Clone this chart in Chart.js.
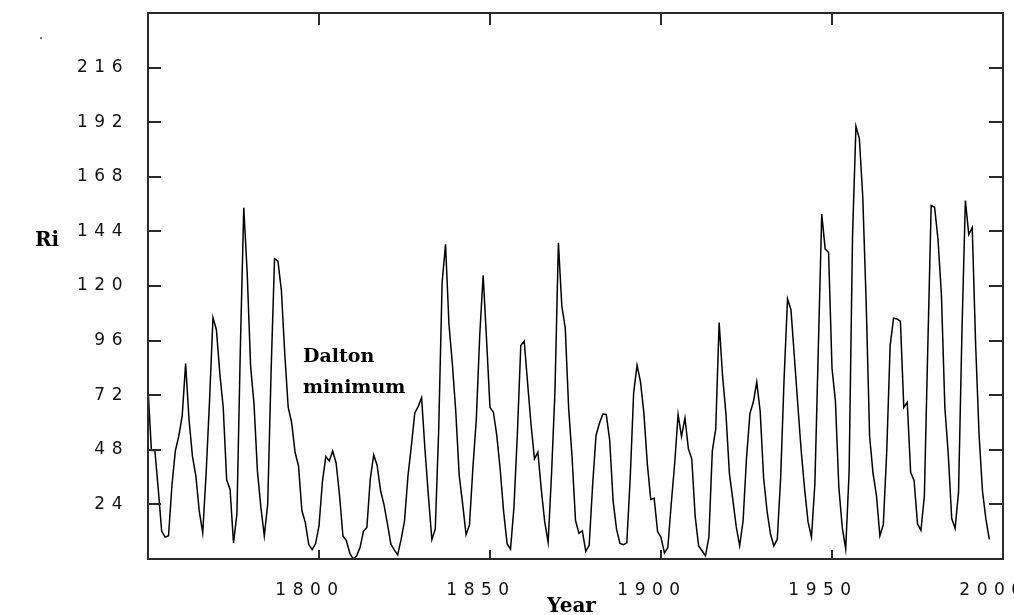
<!DOCTYPE html>
<html><head><meta charset="utf-8">
<script src="https://cdn.jsdelivr.net/npm/chart.js@4/dist/chart.umd.min.js"></script>
<style>html,body{margin:0;padding:0;background:#fff;overflow:hidden}#wrap{position:relative;width:1014px;height:615px}</style>
</head><body><div id="wrap"><canvas id="c" width="1014" height="615"></canvas></div>
<script>
const years = [
1750,1751,1752,1753,1754,1755,1756,1757,1758,1759,
1760,1761,1762,1763,1764,1765,1766,1767,1768,1769,
1770,1771,1772,1773,1774,1775,1776,1777,1778,1779,
1780,1781,1782,1783,1784,1785,1786,1787,1788,1789,
1790,1791,1792,1793,1794,1795,1796,1797,1798,1799,
1800,1801,1802,1803,1804,1805,1806,1807,1808,1809,
1810,1811,1812,1813,1814,1815,1816,1817,1818,1819,
1820,1821,1822,1823,1824,1825,1826,1827,1828,1829,
1830,1831,1832,1833,1834,1835,1836,1837,1838,1839,
1840,1841,1842,1843,1844,1845,1846,1847,1848,1849,
1850,1851,1852,1853,1854,1855,1856,1857,1858,1859,
1860,1861,1862,1863,1864,1865,1866,1867,1868,1869,
1870,1871,1872,1873,1874,1875,1876,1877,1878,1879,
1880,1881,1882,1883,1884,1885,1886,1887,1888,1889,
1890,1891,1892,1893,1894,1895,1896,1897,1898,1899,
1900,1901,1902,1903,1904,1905,1906,1907,1908,1909,
1910,1911,1912,1913,1914,1915,1916,1917,1918,1919,
1920,1921,1922,1923,1924,1925,1926,1927,1928,1929,
1930,1931,1932,1933,1934,1935,1936,1937,1938,1939,
1940,1941,1942,1943,1944,1945,1946,1947,1948,1949,
1950,1951,1952,1953,1954,1955,1956,1957,1958,1959,
1960,1961,1962,1963,1964,1965,1966,1967,1968,1969,
1970,1971,1972,1973,1974,1975,1976,1977,1978,1979,
1980,1981,1982,1983,1984,1985,1986,1987,1988,1989,
1990,1991,1992,1993,1994,1995,1996
];
const sunspotNumber = [
75.0,47.7,47.8,30.7,12.2,9.6,10.2,32.4,47.6,54.0,
62.9,85.9,61.2,45.1,36.4,20.9,11.4,37.8,69.8,106.1,
100.8,81.6,66.5,34.8,30.6,7.0,19.8,92.5,154.4,125.9,
84.8,68.1,38.5,22.8,10.2,24.1,82.9,132.0,130.9,118.1,
89.9,66.6,60.0,46.9,41.0,21.3,16.0,6.4,4.1,6.8,
14.5,34.0,45.0,43.1,47.5,42.2,28.1,10.1,8.1,2.5,
0.0,1.4,5.0,12.2,13.9,35.4,45.8,41.1,30.1,23.9,
15.6,6.6,4.0,1.8,8.5,16.6,36.3,49.6,64.2,67.0,
70.9,47.8,27.5,8.5,13.2,56.9,121.5,138.3,103.2,85.7,
64.6,36.7,24.2,10.7,15.0,40.1,61.5,98.5,124.7,96.3,
66.6,64.5,54.1,39.0,20.6,6.7,4.3,22.7,54.8,93.8,
95.8,77.2,59.1,44.0,47.0,30.5,16.3,7.3,37.6,74.0,
139.0,111.2,101.6,66.2,44.7,17.0,11.3,12.4,3.4,6.0,
32.3,54.3,59.7,63.7,63.5,52.2,25.4,13.1,6.8,6.3,
7.1,35.6,73.0,85.1,78.0,64.0,41.8,26.2,26.7,12.1,
9.5,2.7,5.0,24.4,42.0,63.5,53.8,62.0,48.5,43.9,
18.6,5.7,3.6,1.4,9.6,47.4,57.1,103.9,80.6,63.6,
37.6,26.1,14.2,5.8,16.7,44.3,63.9,69.0,77.8,64.9,
35.7,21.2,11.1,5.7,8.7,36.1,79.7,114.4,109.6,88.8,
67.8,47.5,30.6,16.3,9.6,33.2,92.6,151.6,136.3,134.7,
83.9,69.4,31.5,13.9,4.4,38.0,141.7,190.2,184.8,159.0,
112.3,53.9,37.6,27.9,10.2,15.1,47.0,93.8,105.9,105.5,
104.5,66.6,68.9,38.0,34.5,15.5,12.6,27.5,92.5,155.4,
154.6,140.4,115.9,66.6,45.9,17.9,13.4,29.4,100.2,157.6,
142.6,145.7,94.3,54.6,29.9,17.5,8.6
];
const yTickValues = [24,48,72,96,120,144,168,192,216];
const xTickValues = [1800,1850,1900,1950,2000];
const yTitle = 'Ri';
const xTitle = 'Year';
const noteLines = ['Dalton','minimum'];

const points = years.map((y,i)=>({x:y,y:sunspotNumber[i]}));

const framePlugin = {
  id:'frame',
  beforeDraw(chart){ chart.ctx.letterSpacing = '6.5px'; },
  afterDraw(chart){
    const ctx = chart.ctx, ca = chart.chartArea;
    const xs = chart.scales.x, ys = chart.scales.y;
    ctx.save();
    ctx.letterSpacing = '0px';
    ctx.strokeStyle = '#2a2a2a';
    ctx.lineWidth = 2;
    ctx.strokeRect(ca.left, ca.top, ca.right-ca.left, ca.bottom-ca.top);
    ctx.beginPath();
    yTickValues.forEach(v=>{
      const p = Math.round(ys.getPixelForValue(v));
      ctx.moveTo(ca.left, p); ctx.lineTo(ca.left+13, p);
      ctx.moveTo(ca.right, p); ctx.lineTo(ca.right-14, p);
    });
    xTickValues.forEach(v=>{
      if (v >= xs.max) return;
      const p = Math.round(xs.getPixelForValue(v));
      ctx.moveTo(p, ca.bottom); ctx.lineTo(p, ca.bottom-9);
      ctx.moveTo(p, ca.top); ctx.lineTo(p, ca.top+12);
    });
    ctx.stroke();
    ctx.fillStyle = '#000';
    ctx.textBaseline = 'alphabetic';
    ctx.font = 'bold 20px "DejaVu Serif"';
    ctx.textAlign = 'left';
    ctx.fillText(yTitle, 35, 246);
    ctx.textAlign = 'center';
    ctx.fillText(xTitle, (ca.left+ca.right)/2 - 4, 612);
    ctx.textAlign = 'left';
    ctx.font = 'bold 19px "DejaVu Serif"';
    ctx.fillText(noteLines[0], 303, 362);
    ctx.fillText(noteLines[1], 303, 393);
    ctx.fillStyle = '#777';
    ctx.fillRect(40, 37, 2, 2);
    ctx.restore();
  }
};

new Chart(document.getElementById('c'), {
  type:'line',
  data:{datasets:[{data:points, borderColor:'#000', borderWidth:1.5, pointRadius:0, tension:0, fill:false}]},
  options:{
    responsive:false, animation:false, devicePixelRatio:1,
    layout:{padding:{top:13,right:11,left:0,bottom:0}},
    plugins:{legend:{display:false}, tooltip:{enabled:false}},
    scales:{
      x:{type:'linear', min:1750, max:2000,
        grid:{display:false}, border:{display:false},
        ticks:{stepSize:50, padding:13, labelOffset:-9, maxRotation:0, autoSkip:false,
          color:'#111', font:{family:'"DejaVu Sans"', size:17},
          callback:(v)=> xTickValues.includes(v) ? String(v) : ''},
        afterFit(s){ s.height = 56; s.paddingLeft = 0; s.paddingRight = 0; }
      },
      y:{type:'linear', min:0, max:240,
        grid:{display:false}, border:{display:false},
        ticks:{stepSize:24, padding:11, color:'#111', font:{family:'"DejaVu Sans"', size:17},
          callback:(v)=> yTickValues.includes(v) ? String(v) : ''},
        afterFit(s){ s.width = 148; s.paddingTop = 0; s.paddingBottom = 0; }
      }
    }
  },
  plugins:[framePlugin]
});
</script></body></html>
